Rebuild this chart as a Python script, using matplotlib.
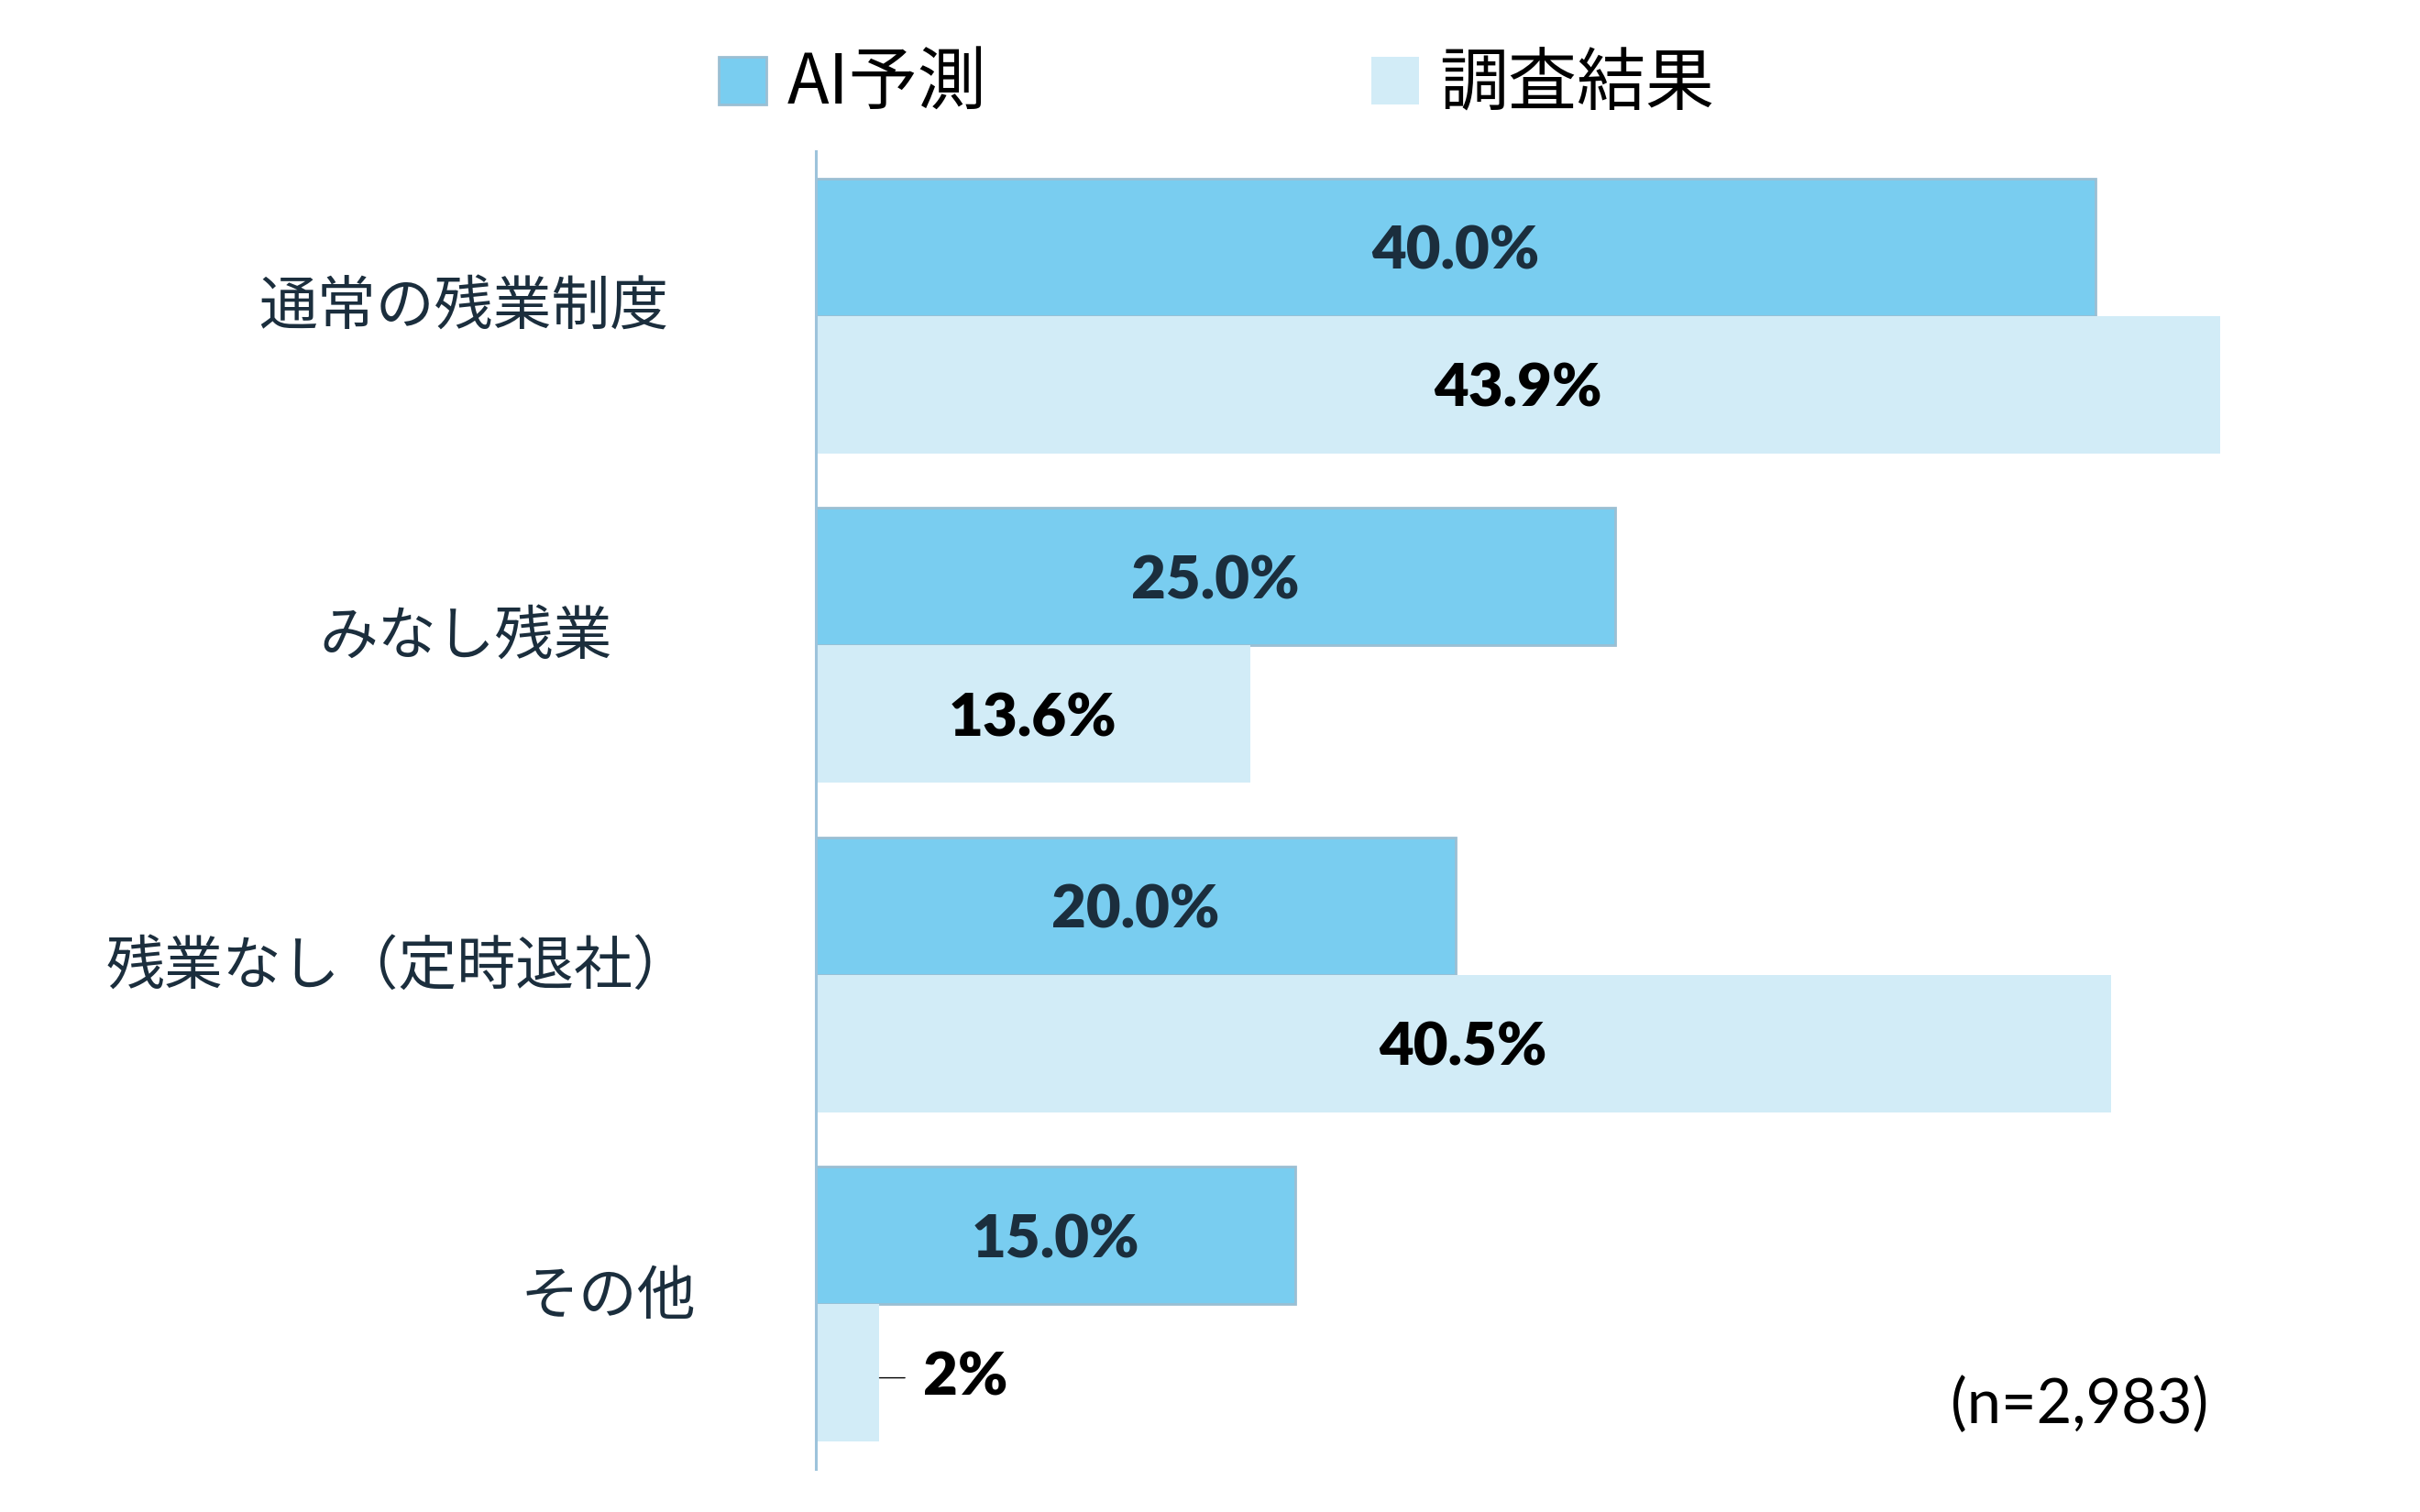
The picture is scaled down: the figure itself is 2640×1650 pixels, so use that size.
import numpy as np
import matplotlib
matplotlib.use("Agg")
import matplotlib.pyplot as plt
import matplotlib.transforms as mtrans

# データ
categories = ["通常の残業制度", "みなし残業", "残業なし（定時退社）", "その他"]
ai_pred = [40.0, 25.0, 20.0, 15.0]
survey = [43.9, 13.6, 40.5, 2.0]
ai_labels = ["40.0%", "25.0%", "20.0%", "15.0%"]
survey_labels = ["43.9%", "13.6%", "40.5%", "2%"]
series_names = ["AI予測", "調査結果"]
note = "(n=2,983)"

# 色・フォント
c_ai = "#79CDF0"
c_ai_edge = "#9BBFD3"
c_survey = "#D2ECF7"
c_text = "#1B2E3D"
latin = ["Lato", "Noto Sans CJK JP"]
cjk = ["Noto Sans CJK JP", "DejaVu Sans"]

fig = plt.figure(figsize=(26.4, 16.5), dpi=100)
ax = fig.add_axes([0.337, 0.0285, 0.661, 0.8715])

y = np.arange(len(categories))
h = 0.417
b1 = ax.barh(y - h / 2, ai_pred, height=h, color=c_ai, edgecolor=c_ai_edge, linewidth=2, label=series_names[0])
b2 = ax.barh(y + h / 2, survey, height=h, color=c_survey, edgecolor="none", label=series_names[1])

ax.set_xlim(0, 50)
ax.set_ylim(3.5, -0.5)
for s in ["top", "right", "bottom"]:
    ax.spines[s].set_visible(False)
ax.spines["left"].set_color("#9DC3DB")
ax.spines["left"].set_linewidth(2.2)
ax.set_xticks([])
ax.set_yticks([])

# 値ラベル
dy = 0.015
for yi, v, lab in zip(y - h / 2, ai_pred, ai_labels):
    ax.text(v / 2, yi + dy, lab, ha="center", va="center", fontsize=47,
            fontweight="heavy", color=c_text, family=latin)
for yi, v, lab in zip(y + h / 2, survey, survey_labels):
    if v >= 5:
        ax.text(v / 2, yi + dy, lab, ha="center", va="center", fontsize=47,
                fontweight="heavy", color="black", family=latin)
    else:
        # 小さい値は引き出し線付きで外側に
        ax.annotate(lab, xy=(v, yi + dy), xytext=(v + 1.35, yi + dy), ha="left", va="center",
                    fontsize=47, fontweight="heavy", color="black", family=latin,
                    arrowprops=dict(arrowstyle="-", color="black", lw=1,
                                    shrinkA=12, shrinkB=0))

# カテゴリラベル
label_x = [0.107, 0.132, 0.0436, 0.215]
tr = mtrans.blended_transform_factory(fig.transFigure, ax.transData)
for yi, lab, lx in zip(y, categories, label_x):
    ax.text(lx, yi - 0.022, lab, transform=tr, ha="left", va="center",
            fontsize=46, color=c_text, family=cjk)

# 凡例
fig.legend(handles=[b1, b2], loc="center left", bbox_to_anchor=(0.297, 0.944),
           ncol=2, frameon=False, prop={"family": cjk, "size": 54},
           handlelength=0.69, handleheight=0.69, handletextpad=0.3,
           columnspacing=5.6, borderpad=0, borderaxespad=0)

fig.text(0.806, 0.0705, note, ha="left", va="center", fontsize=48,
         color="black", family=latin)

fig.savefig("out.png", dpi=100)
